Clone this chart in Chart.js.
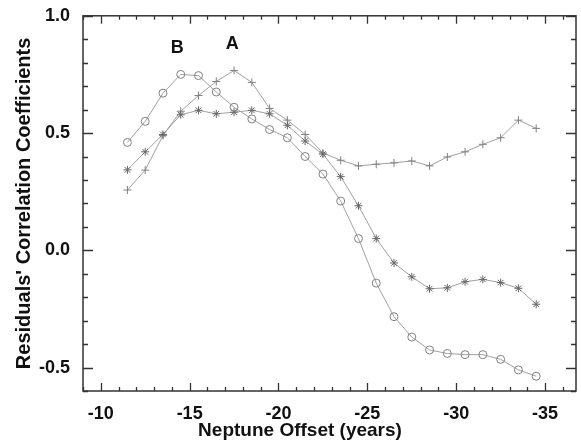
<!DOCTYPE html>
<html>
<head>
<meta charset="utf-8">
<script src="https://cdn.jsdelivr.net/npm/chart.js@4/dist/chart.umd.min.js"></script>
<style>
  body { margin: 0; background: #fff; }
  canvas { display: block; }
</style>
</head>
<body>
<canvas id="grafik" width="581" height="443"></canvas>
<script>
// offsets (years) shared by all three curves
const offsets = [-11.5, -12.5, -13.5, -14.5, -15.5, -16.5, -17.5, -18.5, -19.5, -20.5, -21.5, -22.5,
  -23.5, -24.5, -25.5, -26.5, -27.5, -28.5, -29.5, -30.5, -31.5, -32.5, -33.5, -34.5];

// open circles (peak B)
const circleVals = [0.46, 0.55, 0.67, 0.75, 0.745, 0.675, 0.61, 0.56, 0.515, 0.48, 0.40, 0.325,
  0.21, 0.05, -0.14, -0.283, -0.37, -0.425, -0.44, -0.445, -0.445, -0.465, -0.51, -0.537];

// asterisks
const starVals = [0.343, 0.42, 0.494, 0.578, 0.597, 0.582, 0.589, 0.597, 0.582, 0.533, 0.466, 0.41,
  0.314, 0.19, 0.05, -0.054, -0.113, -0.164, -0.16, -0.134, -0.124, -0.138, -0.162, -0.23];

// plus signs (peak A)
const plusVals = [0.257, 0.342, 0.49, 0.593, 0.66, 0.72, 0.767, 0.716, 0.605, 0.555, 0.494, 0.415,
  0.384, 0.36, 0.367, 0.373, 0.381, 0.36, 0.398, 0.42, 0.452, 0.48, 0.555, 0.52];

const xMajor = 5, xMinor = 1;
const yMajor = 0.5, yMinor = 0.1;

const FONT = "'Liberation Sans', Arial, Helvetica, sans-serif";
const lineGrey = "#a0a0a0";
const markGrey = "#808080";

function punkte(vals) {
  return offsets.map((x, i) => ({ x: x, y: vals[i] }));
}

// frame with inward ticks on all four sides, letters A/B, x title
const cerceve = {
  id: "cerceve",
  afterDraw(chart) {
    const ctx = chart.ctx;
    const a = chart.chartArea;
    const xs = chart.scales.x, ys = chart.scales.y;
    ctx.save();
    ctx.strokeStyle = "#333";
    ctx.lineWidth = 1.5;
    ctx.strokeRect(a.left, a.top, a.right - a.left, a.bottom - a.top);

    ctx.lineWidth = 1.3;
    ctx.beginPath();
    // x ticks
    for (let v = Math.ceil(xs.min); v <= xs.max; v += xMinor) {
      const px = Math.round(xs.getPixelForValue(v)) + 0.5;
      const len = (v % xMajor === 0) ? 8 : 4;
      ctx.moveTo(px, a.bottom); ctx.lineTo(px, a.bottom - len);
      ctx.moveTo(px, a.top); ctx.lineTo(px, a.top + len);
    }
    // y ticks
    const n0 = Math.ceil(ys.min / yMinor - 1e-6), n1 = Math.floor(ys.max / yMinor + 1e-6);
    for (let k = n0; k <= n1; k++) {
      const v = k * yMinor;
      const py = Math.round(ys.getPixelForValue(v)) + 0.5;
      const major = Math.abs(v / yMajor - Math.round(v / yMajor)) < 1e-6;
      const len = major ? 10 : 5;
      ctx.moveTo(a.left, py); ctx.lineTo(a.left + len, py);
      ctx.moveTo(a.right, py); ctx.lineTo(a.right - len, py);
    }
    ctx.stroke();

    ctx.fillStyle = "#111";
    ctx.font = "bold 18px " + FONT;
    ctx.textAlign = "center";
    ctx.textBaseline = "middle";
    ctx.fillText("A", xs.getPixelForValue(-17.4), ys.getPixelForValue(0.88));
    ctx.fillText("B", xs.getPixelForValue(-14.3), ys.getPixelForValue(0.862));
    ctx.font = "bold 19px " + FONT;
    ctx.fillText("Neptune Offset (years)", 300, 431);
    ctx.restore();
  }
};

new Chart(document.getElementById("grafik"), {
  type: "scatter",
  data: {
    datasets: [
      {
        label: "circles",
        data: punkte(circleVals),
        showLine: true,
        borderColor: lineGrey,
        borderWidth: 1,
        pointStyle: "circle",
        pointRadius: 4,
        pointBorderWidth: 1,
        pointBorderColor: markGrey,
        pointBackgroundColor: "rgba(0,0,0,0)"
      },
      {
        label: "stars",
        data: punkte(starVals),
        showLine: true,
        borderColor: lineGrey,
        borderWidth: 1,
        pointStyle: "star",
        pointRadius: 4,
        pointBorderWidth: 1,
        pointBorderColor: "#666",
        pointBackgroundColor: "rgba(0,0,0,0)"
      },
      {
        label: "plus",
        data: punkte(plusVals),
        showLine: true,
        borderColor: lineGrey,
        borderWidth: 1,
        pointStyle: "cross",
        pointRadius: 4,
        pointBorderWidth: 1,
        pointBorderColor: markGrey,
        pointBackgroundColor: "rgba(0,0,0,0)"
      }
    ]
  },
  options: {
    responsive: false,
    animation: false,
    devicePixelRatio: 1,
    layout: { padding: { left: 0, top: 14, right: 3, bottom: 0 } },
    plugins: {
      legend: { display: false },
      tooltip: { enabled: false }
    },
    scales: {
      x: {
        type: "linear",
        reverse: true,
        min: -36.74,
        max: -9,
        grid: { display: false },
        border: { display: false },
        ticks: {
          stepSize: xMajor,
          includeBounds: false,
          maxRotation: 0,
          padding: 4,
          color: "#111",
          font: { family: FONT, size: 18, weight: "bold" },
          callback: v => String(v)
        },
        afterFit: s => { s.height = 52; }
      },
      y: {
        min: -0.6,
        max: 1.0,
        grid: { display: false },
        border: { display: false },
        ticks: {
          stepSize: yMajor,
          includeBounds: false,
          padding: 5,
          color: "#111",
          font: { family: FONT, size: 18, weight: "bold" },
          callback: v => Number(v).toFixed(1)
        },
        title: {
          display: true,
          text: "Residuals' Correlation Coefficients",
          color: "#111",
          font: { family: FONT, size: 20, weight: "bold" },
          padding: { top: 12, bottom: 4 }
        },
        afterFit: s => { s.width = 83; }
      }
    }
  },
  plugins: [cerceve]
});
</script>
</body>
</html>
